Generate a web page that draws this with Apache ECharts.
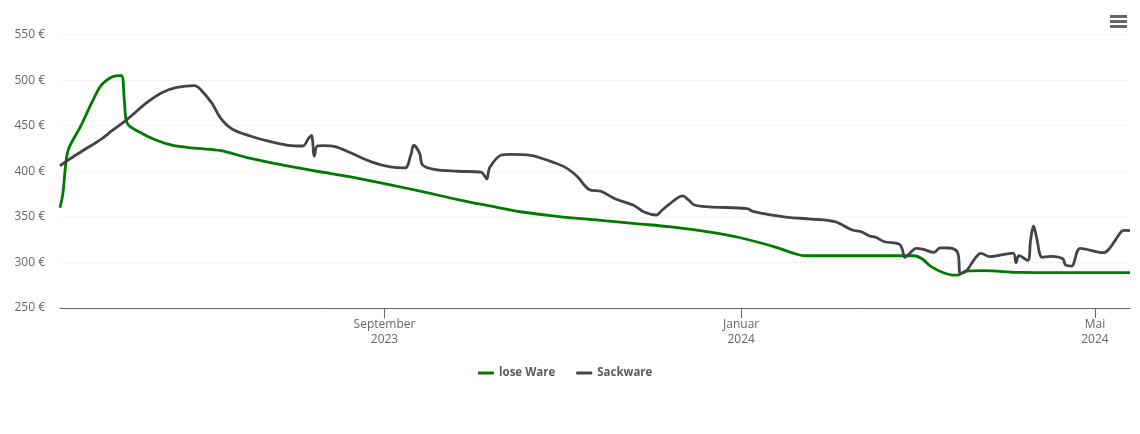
<!DOCTYPE html>
<html lang="de">

<head>
    <meta charset="UTF-8">
    <title>Preisentwicklung</title>
    <script src="https://cdn.jsdelivr.net/npm/echarts@6/dist/echarts.min.js"></script>
    <style>
        html, body { margin: 0; padding: 0; background: #fff; }
    </style>
</head>

<body>
    <div id="main" style="width: 1140px;height:434px;"></div>
    <script>
        var axisStart = '2023-05-13';
        var axisEnd = '2024-05-13';
        var tickDates = ['2023-09-01', '2024-01-01', '2024-05-01'];
        var tickLabels = ['September\n2023', 'Januar\n2024', 'Mai\n2024'];

        // lose Ware
        var looseDates = ['2023-05-13','2023-05-14','2023-05-15','2023-05-16','2023-05-20','2023-05-24','2023-05-27','2023-05-30',
            '2023-06-01','2023-06-03','2023-06-04','2023-06-05','2023-06-09','2023-06-15','2023-06-21','2023-06-29',
            '2023-07-07','2023-07-16','2023-07-28','2023-08-09','2023-08-20','2023-09-03','2023-09-14','2023-09-26',
            '2023-10-07','2023-10-18','2023-10-30','2023-11-10','2023-11-15','2023-11-26','2023-12-08','2023-12-22','2023-12-31',
            '2024-01-13','2024-01-18','2024-01-23','2024-02-14','2024-02-29','2024-03-03','2024-03-06','2024-03-10','2024-03-14',
            '2024-03-15','2024-03-18','2024-03-24','2024-04-05','2024-04-19','2024-05-13'];
        var looseValues = [360,376,409,425,449,476,494,502,
            504.5,505,478,452.6,443.4,434,428,425,
            422.5,415,407,400,394,385,377.6,369,
            362,355.3,350.6,347.3,345.8,342.5,339,333,327.6,
            316.6,311,307.3,307.3,307.3,303.7,295.3,289,286,
            286,290.6,291,289,288.7,288.7];

        // Sackware
        var sackDates = ['2023-05-13','2023-05-15','2023-05-21','2023-05-27','2023-05-31','2023-06-05','2023-06-12','2023-06-17',
            '2023-06-22','2023-06-28','2023-06-30','2023-07-04','2023-07-07','2023-07-11','2023-07-17','2023-07-24','2023-07-30',
            '2023-08-04','2023-08-06','2023-08-07','2023-08-08','2023-08-09','2023-08-11','2023-08-15','2023-08-20','2023-08-28',
            '2023-09-03','2023-09-08','2023-09-10','2023-09-11','2023-09-13','2023-09-14','2023-09-18','2023-09-26',
            '2023-10-04','2023-10-05','2023-10-06','2023-10-07','2023-10-11','2023-10-14','2023-10-21','2023-10-28',
            '2023-11-02','2023-11-06','2023-11-10','2023-11-14','2023-11-19','2023-11-25','2023-11-29',
            '2023-12-03','2023-12-05','2023-12-10','2023-12-12','2023-12-14','2023-12-16','2023-12-21',
            '2024-01-03','2024-01-05','2024-01-10','2024-01-17','2024-01-25','2024-02-02','2024-02-08','2024-02-11','2024-02-14',
            '2024-02-16','2024-02-19','2024-02-24','2024-02-25','2024-02-26','2024-02-27','2024-03-01','2024-03-03','2024-03-07',
            '2024-03-09','2024-03-12','2024-03-15','2024-03-16','2024-03-18','2024-03-21','2024-03-23','2024-03-26',
            '2024-04-03','2024-04-04','2024-04-05','2024-04-08','2024-04-09','2024-04-10','2024-04-11','2024-04-13','2024-04-16',
            '2024-04-20','2024-04-21','2024-04-23','2024-04-26','2024-05-04','2024-05-06','2024-05-10','2024-05-11','2024-05-13'];
        var sackValues = [406,410.5,423,435,445,457,476,486.5,
            492,494,490,474.5,458,446,438.7,432.4,428.5,
            427.7,436,439.4,416.7,427.7,428,427,420.8,409.8,
            404.7,403.6,417.8,428.5,419.7,407,402,400,
            399,396,391.5,404,417.8,418.6,417.5,410.5,
            404,394,380,378,369.6,363,355,
            352,357.5,370.3,373,368.5,363,361,
            359,356,352.8,349.5,347.6,344.7,335.6,333.7,329,
            327.6,322.7,320.2,315.5,305.6,308,315.5,314.7,311,
            316,315.8,311,288,290.6,304.5,310,306.3,
            310.3,299.7,307.4,302.3,324.6,340,328,305.6,306.7,
            304,297,296,315.5,310.7,315.5,333.7,335.2,334.8];

        function toTime(d) {
            return echarts.time.parse(d).getTime();
        }
        function zip(dates, values) {
            return dates.map(function (d, i) { return [toTime(d), values[i]]; });
        }

        var tickTimes = tickDates.map(toTime);
        var fontName = '"Open Sans"';

        var myChart = echarts.init(document.getElementById('main'));
        var option = {
            animation: false,
            color: ['#007a00', '#434348'],
            textStyle: { fontFamily: fontName },
            grid: { left: 60, right: 10, top: 34.5, bottom: 126 },
            legend: {
                left: 473,
                top: 362,
                itemWidth: 16,
                itemHeight: 3,
                itemGap: 21,
                icon: 'roundRect',
                textStyle: { fontFamily: fontName, fontSize: 11.5, fontWeight: 'bold', color: '#5a5a5a' },
                data: ['lose Ware', 'Sackware']
            },
            xAxis: {
                type: 'value',
                min: toTime(axisStart),
                max: toTime(axisEnd),
                splitLine: { show: false },
                axisLine: { lineStyle: { color: '#666', width: 1 } },
                axisTick: { length: 10, lineStyle: { color: '#666' }, customValues: tickTimes },
                axisLabel: {
                    customValues: tickTimes,
                    color: '#666',
                    fontSize: 12,
                    lineHeight: 15,
                    margin: 9,
                    hideOverlap: false,
                    formatter: function (value) {
                        return tickLabels[tickTimes.indexOf(value)];
                    }
                }
            },
            yAxis: {
                type: 'value',
                min: 250,
                max: 550,
                interval: 50,
                axisLine: { show: false },
                axisTick: { show: false },
                axisLabel: { color: '#666', fontSize: 12, margin: 15, padding: [2, 0, 0, 0], formatter: '{value} €' },
                splitLine: { lineStyle: { color: '#e6e6e6', type: 'dotted', width: 1 } }
            },
            graphic: [
                { type: 'rect', shape: { x: 1110, y: 15, width: 17, height: 3 }, style: { fill: '#666' } },
                { type: 'rect', shape: { x: 1110, y: 20, width: 17, height: 3 }, style: { fill: '#666' } },
                { type: 'rect', shape: { x: 1110, y: 25, width: 17, height: 3 }, style: { fill: '#666' } }
            ],
            series: [
                {
                    name: 'lose Ware',
                    type: 'line',
                    showSymbol: false,
                    smooth: 0.35,
                    lineStyle: { width: 2.8 },
                    data: zip(looseDates, looseValues)
                },
                {
                    name: 'Sackware',
                    type: 'line',
                    showSymbol: false,
                    smooth: 0.35,
                    lineStyle: { width: 2.8 },
                    data: zip(sackDates, sackValues)
                }
            ]
        };
        myChart.setOption(option);
    </script>
</body>

</html>
